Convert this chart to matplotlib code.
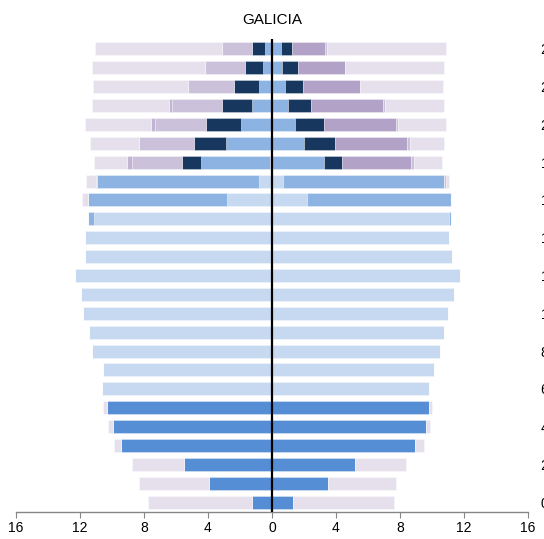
import matplotlib
matplotlib.use("Agg")
import matplotlib.pyplot as plt
import numpy as np

plt.rcParams['font.family'] = ['Liberation Sans', 'DejaVu Sans']

title = "GALICIA"
# rows listed from top to bottom
row_labels_top_down = ["24", "", "22", "", "20", "", "18", "", "16", "", "14", "", "12",
                       "", "10", "", "8", "", "6", "", "4", "", "2", "", "0"]

# left side segment widths (from centre outward), top row first
left_light  = [0, 0, 0, 0, 0, 0, 0.10, 0.81, 2.81, 11.13, 11.67, 11.67, 12.31, 11.94, 11.79, 11.42, 11.23, 10.56, 10.65, 0, 0, 0, 0, 0, 0]
left_medium = [0.44, 0.56, 0.83, 1.23, 1.94, 2.88, 4.34, 10.15, 8.69, 0.38, 0, 0, 0, 0, 0, 0, 0, 0, 0, 0, 0, 0, 0, 0, 0]
left_strong = [0, 0, 0, 0, 0, 0, 0, 0, 0, 0, 0, 0, 0, 0, 0, 0, 0, 0, 0, 10.29, 9.94, 9.44, 5.52, 3.92, 1.25]
left_navy   = [0.81, 1.15, 1.52, 1.92, 2.19, 2.00, 1.19, 0, 0, 0, 0, 0, 0, 0, 0, 0, 0, 0, 0, 0, 0, 0, 0, 0, 0]
left_lav    = [1.85, 2.46, 2.90, 3.12, 3.19, 3.44, 3.13, 0, 0, 0, 0, 0, 0, 0, 0, 0, 0, 0, 0, 0, 0, 0, 0, 0, 0]
left_strip  = [0, 0, 0, 0.15, 0.25, 0, 0.31, 0.05, 0, 0, 0, 0, 0, 0, 0, 0, 0, 0, 0, 0, 0, 0, 0, 0, 0]
left_grey   = [7.94, 7.08, 5.94, 4.83, 4.11, 3.04, 2.06, 0.62, 0.38, 0, 0, 0, 0, 0, 0, 0, 0, 0, 0, 0.27, 0.29, 0.46, 3.25, 4.37, 6.50]

# right side segment widths (from centre outward), top row first
right_light  = [0, 0, 0, 0, 0, 0, 0, 0.69, 2.19, 11.06, 11.08, 11.23, 11.77, 11.35, 11.02, 10.75, 10.50, 10.15, 9.79, 0, 0, 0, 0, 0, 0]
right_medium = [0.54, 0.65, 0.83, 1.00, 1.44, 2.02, 3.27, 10.08, 9.02, 0.15, 0, 0, 0, 0, 0, 0, 0, 0, 0, 0, 0, 0, 0, 0, 0]
right_strong = [0, 0, 0, 0, 0, 0, 0, 0, 0, 0, 0, 0, 0, 0, 0, 0, 0, 0, 0, 9.81, 9.65, 8.94, 5.17, 3.52, 1.33]
right_navy   = [0.69, 0.98, 1.11, 1.44, 1.81, 1.92, 1.11, 0, 0, 0, 0, 0, 0, 0, 0, 0, 0, 0, 0, 0, 0, 0, 0, 0, 0]
right_lav    = [2.10, 2.96, 3.58, 4.50, 4.50, 4.50, 4.32, 0, 0, 0, 0, 0, 0, 0, 0, 0, 0, 0, 0, 0, 0, 0, 0, 0, 0]
right_strip  = [0.08, 0, 0, 0.12, 0.13, 0.19, 0.19, 0.13, 0, 0, 0, 0, 0, 0, 0, 0, 0, 0, 0, 0, 0, 0, 0, 0, 0]
right_grey   = [7.48, 6.13, 5.15, 3.71, 3.00, 2.13, 1.73, 0.14, 0, 0, 0, 0, 0, 0, 0, 0, 0, 0, 0, 0.17, 0.20, 0.54, 3.18, 4.23, 6.27]

xticks = [-16, -12, -8, -4, 0, 4, 8, 12, 16]

left_layers = [left_light, left_medium, left_strong, left_navy, left_lav, left_strip, left_grey]
right_layers = [right_light, right_medium, right_strong, right_navy, right_lav, right_strip, right_grey]
left_colors = ['#c6d9f0', '#8db3e2', '#558ed5', '#17375e', '#ccc1da', '#c2b5d3', '#e5e0ec']
right_colors = ['#c6d9f0', '#8db3e2', '#558ed5', '#17375e', '#b3a2c7', '#ccc1da', '#e5e0ec']

fig = plt.figure(figsize=(5.44, 5.39), dpi=100)
ax = fig.add_axes([16/544, 27.5/539, 512/544, 472/539])

n = len(row_labels_top_down)
ypos = np.arange(n)[::-1]  # top row gets highest position
h = 0.69
edge = (1, 1, 1, 0.45)

cum = np.zeros(n)
for vals, col in zip(left_layers, left_colors):
    v = np.array(vals, dtype=float)
    ax.barh(ypos, -v, left=-cum, height=h, color=col, edgecolor=edge, linewidth=0.5)
    cum += v

cum = np.zeros(n)
for vals, col in zip(right_layers, right_colors):
    v = np.array(vals, dtype=float)
    ax.barh(ypos, v, left=cum, height=h, color=col, edgecolor=edge, linewidth=0.5)
    cum += v

ax.axvline(0, color='black', lw=1.6, zorder=5)

ax.set_xlim(-16, 16)
ax.set_ylim(-0.5, n - 0.5)
ax.set_xticks(xticks)
ax.set_xticklabels([str(abs(t)) for t in xticks], fontsize=10)
ax.tick_params(axis='x', direction='out', length=4, color='#868686', pad=3)

ax.yaxis.tick_right()
ax.set_yticks(ypos)
ax.set_yticklabels(row_labels_top_down, fontsize=10)
ax.tick_params(axis='y', length=0, pad=9)

for s in ['top', 'left', 'right']:
    ax.spines[s].set_visible(False)
ax.spines['bottom'].set_color('#868686')
ax.spines['bottom'].set_linewidth(1.0)

fig.text(272/544, 1 - 20/539, title, ha='center', va='center', fontsize=11)

fig.savefig('out.png', dpi=100)
